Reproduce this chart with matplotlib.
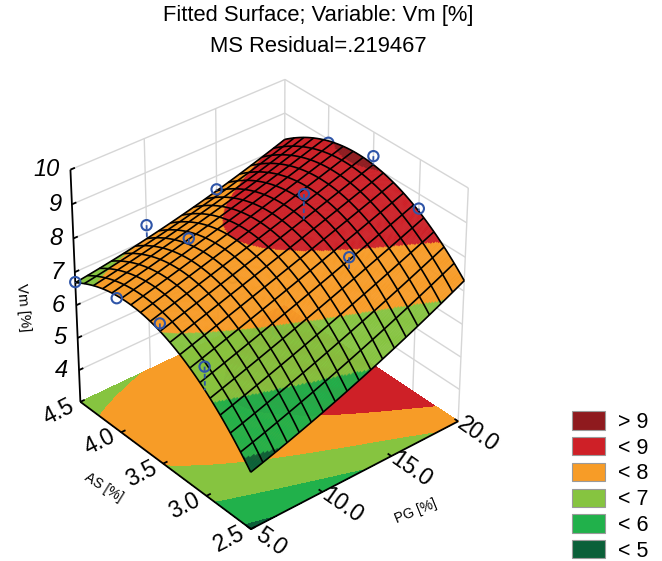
import numpy as np
import matplotlib
matplotlib.use("Agg")
import matplotlib.pyplot as plt
from matplotlib.patches import Patch
from matplotlib.transforms import offset_copy
from mpl_toolkits.mplot3d import proj3d
from mpl_toolkits.mplot3d.art3d import Line3DCollection

plt.rcParams['font.family'] = ['Liberation Sans', 'DejaVu Sans']

# ---- values ----
PG_TICKS = [5.0, 10.0, 15.0, 20.0]
AS_TICKS = [2.5, 3.0, 3.5, 4.0, 4.5]
VM_TICKS = [4, 5, 6, 7, 8, 9, 10]
VM_FLOOR = 3.0

# surface height read at PG_TICKS (rows) x AS_TICKS (columns)
PG_5  = [4.72, 6.22, 7.00, 7.18, 6.70]
PG_10 = [5.45, 6.95, 7.68, 7.72, 7.00]
PG_15 = [6.30, 7.65, 8.37, 8.32, 7.60]
PG_20 = [7.30, 8.53, 9.05, 8.94, 8.20]

# observed points (blue circles)
OBS_PG = [5, 10, 15, 20,  5, 10, 15, 20,  5, 10, 15, 20,  5, 10, 15, 20]
OBS_AS = [4.5]*4 + [4.0]*4 + [3.5]*4 + [3.0]*4
OBS_VM = [6.7, 7.45, 7.6, 7.9,
          7.1, 7.9, 7.9, 8.9,
          7.25, 7.6, 9.1, 9.3,
          6.9, 6.9, 8.1, 8.58]

BAND_LEVELS = [0, 5, 6, 7, 8, 9, 11]
BAND_COLORS = ['#0B6039', '#21B14B', '#86C440', '#F79C27', '#CE2027', '#8F1A1E']
LEGEND_LABELS = ['> 9', '< 9', '< 8', '< 7', '< 6', '< 5']
N_MESH = 19

# ---- least-squares quadratic surface through the table ----
TABLE = np.array([PG_5, PG_10, PG_15, PG_20])
def basis(p, a):
    p = np.asarray(p, float); a = np.asarray(a, float)
    return np.stack([p**i * a**j for i in range(3) for j in range(3)], axis=-1)
GP, GA = np.meshgrid(PG_TICKS, AS_TICKS, indexing='ij')
coef, *_ = np.linalg.lstsq(basis(GP, GA).reshape(-1, 9), TABLE.ravel(), rcond=None)
def surf(p, a):
    return basis(p, a) @ coef

fig = plt.figure(figsize=(6.62, 5.61), dpi=100)
ax = fig.add_axes([-0.106, -0.045, 1.0, 1.0], projection='3d')
ax.computed_zorder = False
ax.set_proj_type('persp', focal_length=1.0)
ax.view_init(elev=34, azim=-130)
ax.set_box_aspect((1, 1, 1.02), zoom=0.83)
ax.set_xlim(PG_TICKS[0], PG_TICKS[-1], view_margin=0)
ax.set_ylim(AS_TICKS[0], AS_TICKS[-1], view_margin=0)
ax.set_zlim(VM_FLOOR, VM_TICKS[-1], view_margin=0)
ax.set_axis_off()

x0, x1 = PG_TICKS[0], PG_TICKS[-1]
y0, y1 = AS_TICKS[0], AS_TICKS[-1]
z0, z1 = VM_FLOOR, VM_TICKS[-1]

def label(x, y, z, s, dx=0, dy=0, **kw):
    """Real text anchored on a 3D position, shifted by (dx, dy) pixels."""
    u, v, _ = proj3d.proj_transform(x, y, z, ax.get_proj())
    tr = offset_copy(ax.transData, fig=fig, x=dx, y=dy, units='dots')
    ax.text2D(u, v, s, transform=tr, clip_on=False, **kw)

# walls
GRID = '#D6D6D6'
wall = []
for z in VM_TICKS:
    wall.append([(x0, y1, z), (x1, y1, z)])
    wall.append([(x1, y1, z), (x1, y0, z)])
for x in PG_TICKS[1:]:
    wall.append([(x, y1, z0), (x, y1, z1)])
for y in AS_TICKS[:-1]:
    wall.append([(x1, y, z0), (x1, y, z1)])
ax.add_collection3d(Line3DCollection(wall, colors=GRID, linewidths=1.0, zorder=0))

# floor contour
fx, fy = np.meshgrid(np.linspace(x0, x1, 200), np.linspace(y0, y1, 200))
fz = surf(fx, fy)
ax.contourf(fx, fy, fz, levels=BAND_LEVELS, colors=BAND_COLORS, zdir='z', offset=z0, zorder=1)

# black axes and ticks
axes_lines = [[(x0, y0, z0), (x1, y0, z0)], [(x0, y0, z0), (x0, y1, z0)], [(x0, y1, z0), (x0, y1, z1)]]
for x in PG_TICKS:
    axes_lines.append([(x, y0, z0), (x, y0 + 0.04, z0)])
for y in AS_TICKS:
    axes_lines.append([(x0, y, z0), (x0 + 0.3, y, z0)])
for z in VM_TICKS:
    axes_lines.append([(x0, y1, z), (x0 + 0.3, y1, z)])
ax.add_collection3d(Line3DCollection(axes_lines, colors='black', linewidths=1.3, zorder=1.5))

# surface fine colour bands
sx, sy = np.meshgrid(np.linspace(x0, x1, 201), np.linspace(y0, y1, 201))
sz = surf(sx, sy)
cx = surf((sx[:-1, :-1] + sx[1:, 1:]) / 2, (sy[:-1, :-1] + sy[1:, 1:]) / 2)
idx = np.clip(np.digitize(cx, BAND_LEVELS) - 1, 0, 5)
rgba = np.array([matplotlib.colors.to_rgba(c) for c in BAND_COLORS])[idx]
ax.plot_surface(sx, sy, sz, facecolors=rgba, rstride=1, cstride=1, shade=False,
                linewidth=0.3, antialiased=True, zorder=3)

# mesh
mesh = []
t = np.linspace(0, 1, 60)
for f in np.linspace(0, 1, N_MESH):
    px = x0 + f * (x1 - x0) * np.ones_like(t); py = y0 + t * (y1 - y0)
    mesh.append(np.column_stack([px, py, surf(px, py)]))
    px = x0 + t * (x1 - x0); py = y0 + f * (y1 - y0) * np.ones_like(t)
    mesh.append(np.column_stack([px, py, surf(px, py)]))
ax.add_collection3d(Line3DCollection(mesh, colors='black', linewidths=1.2, zorder=4))

# observed points
BLUE = '#2F55A8'
op, oa, ov = np.array(OBS_PG, float), np.array(OBS_AS, float), np.array(OBS_VM, float)
fit = surf(op, oa)
above = ov >= fit
front = above | (op == PG_TICKS[0])
for mask, zo in ((~front, 2), (front, 5)):
    ax.scatter(op[mask], oa[mask], ov[mask], s=55, facecolors='none', edgecolors=BLUE,
               linewidths=1.5, depthshade=False, zorder=zo)
for p, a, v, f in zip(op[above], oa[above], ov[above], fit[above]):
    ax.plot([p, p], [a, a], [v, f], color=BLUE, lw=1.3, ls=(0, (2.5, 1.5)), zorder=5)

# tick labels
for x in PG_TICKS:
    label(x, y0, z0, f'{x:.1f}', dx=20, dy=-13, fontsize=16.5, rotation=-35, ha='center', va='center', rotation_mode='anchor')
for y in AS_TICKS:
    label(x0, y, z0, f'{y:.1f}', dx=-22, dy=-10, fontsize=16.5, rotation=27, ha='center', va='center', rotation_mode='anchor')
for z in VM_TICKS:
    label(x0, y1, z, str(z), dx=-11, fontsize=17, style='italic', ha='right', va='center')
label(12.5, y0, z0, 'PG [%]', dx=59, dy=-37, fontsize=10, rotation=22, ha='center', va='center', rotation_mode='anchor')
label(x0, 3.5, z0, 'AS [%]', dx=-60, dy=-24, fontsize=10, rotation=-32, ha='center', va='center', rotation_mode='anchor')
fig.text(23 / 662, 1 - 307 / 561, 'Vm [%]', fontsize=10.8, rotation=-85, ha='center', va='center')

# title
fig.text(318 / 662, 1 - 16 / 561, 'Fitted Surface; Variable: Vm [%]', fontsize=15.8, ha='center', va='center')
fig.text(318 / 662, 1 - 47 / 561, 'MS Residual=.219467', fontsize=15.8, ha='center', va='center')

# legend
handles = [Patch(facecolor=c, edgecolor='#9A9A9A', linewidth=0.8) for c in BAND_COLORS[::-1]]
fig.legend(handles, LEGEND_LABELS, loc='lower left', bbox_to_anchor=(568 / 662, -5 / 561), frameon=False,
           fontsize=15.5, handlelength=1.51, handleheight=0.93, handletextpad=0.6, labelspacing=0.196,
           borderpad=0.2, borderaxespad=0)

fig.savefig('out.png', dpi=100)
